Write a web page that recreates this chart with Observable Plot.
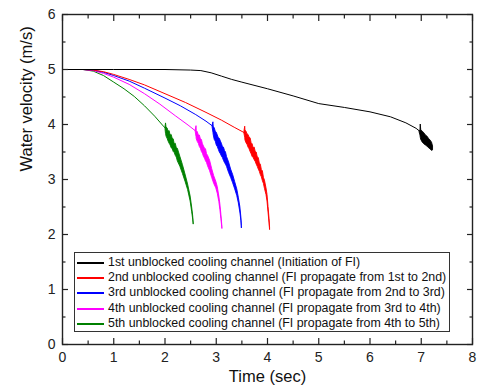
<!DOCTYPE html>
<html>
<head>
<meta charset="utf-8">
<script src="https://cdn.jsdelivr.net/npm/d3@7"></script>
<script src="https://cdn.jsdelivr.net/npm/@observablehq/plot@0.6"></script>
<style>
  body { margin: 0; background: #fff; }
  #wrap { position: relative; width: 477px; height: 391px; font-family: "Liberation Sans", Arial, sans-serif; }
  #legend { position: absolute; left: 74px; top: 252px; width: 374px; height: 78px; border: 1px solid #333; background: #fff; box-sizing: content-box; }
  .row { position: absolute; left: 0; height: 14px; line-height: 14px; font-size: 12.4px; color: #111; white-space: nowrap; }
  .sw { position: absolute; left: 2px; top: 7px; width: 27px; height: 1.5px; }
  .lb { position: absolute; left: 33px; top: 0; }
</style>
</head>
<body>
<div id="wrap"></div>
<script>
// ---- data ----
const xMajor = [0, 1, 2, 3, 4, 5, 6, 7, 8];
const xMinor = [0.5, 1.5, 2.5, 3.5, 4.5, 5.5, 6.5, 7.5];
const yMajor = [0, 1, 2, 3, 4, 5, 6];
const yMinor = [0.5, 1.5, 2.5, 3.5, 4.5, 5.5];

const seriesNames = [
  "1st unblocked cooling channel (Initiation of FI)",
  "2nd unblocked cooling channel (FI propagate from 1st to 2nd)",
  "3rd unblocked cooling channel (FI propagate from 2nd to 3rd)",
  "4th unblocked cooling channel (FI propagate from 3rd to 4th)",
  "5th unblocked cooling channel (FI propagate from 4th to 5th)"
];
const seriesColors = ["#000000", "#ff0000", "#0000ff", "#ff00ff", "#008000"];

// 1st (black)
const bT = [0, 1, 2, 2.5, 2.7, 2.9, 3.1, 3.3, 3.5, 4.0, 4.5, 5.0, 5.5, 6.0, 6.4, 6.7, 6.9, 6.98];
const bV = [5.0, 5.0, 5.0, 4.99, 4.98, 4.94, 4.88, 4.82, 4.77, 4.65, 4.52, 4.38, 4.31, 4.23, 4.14, 4.03, 3.93, 3.87];
const bnT = [6.97, 6.985, 6.99, 7.0, 7.03, 7.06, 7.09, 7.12, 7.15, 7.18, 7.21, 7.23];
const bnHi = [3.88, 3.90, 4.00, 3.89, 3.87, 3.84, 3.80, 3.78, 3.74, 3.71, 3.67, 3.60];
const bnLo = [3.85, 3.80, 3.76, 3.72, 3.67, 3.64, 3.62, 3.60, 3.57, 3.55, 3.52, 3.53];

// 2nd (red)
const rT = [0, 0.4, 0.6, 0.8, 1.0, 1.3, 1.6, 2.0, 2.4, 2.8, 3.1, 3.35, 3.55];
const rV = [5.0, 5.0, 4.99, 4.96, 4.91, 4.82, 4.72, 4.56, 4.40, 4.22, 4.08, 3.95, 3.85];
const rnT = [3.55, 3.565, 3.57, 3.59, 3.61, 3.63, 3.65, 3.67, 3.69, 3.71, 3.73, 3.75, 3.77, 3.79, 3.81, 3.83, 3.85, 3.87, 3.89, 3.91, 3.93, 3.95, 3.98, 4.00, 4.02, 4.04, 4.05];
const rnHi = [3.87, 3.96, 3.89, 3.87, 3.82, 3.81, 3.76, 3.75, 3.66, 3.64, 3.57, 3.58, 3.50, 3.49, 3.40, 3.39, 3.29, 3.27, 3.17, 3.15, 3.03, 2.98, 2.84, 2.72, 2.50, 2.28, 2.12];
const rnLo = [3.83, 3.76, 3.71, 3.66, 3.63, 3.58, 3.55, 3.50, 3.46, 3.41, 3.39, 3.35, 3.32, 3.27, 3.23, 3.18, 3.14, 3.08, 3.04, 2.97, 2.92, 2.83, 2.72, 2.60, 2.40, 2.20, 2.08];

// 3rd (blue)
const uT = [0, 0.4, 0.6, 0.8, 1.0, 1.3, 1.6, 2.0, 2.3, 2.6, 2.8, 2.93];
const uV = [5.0, 5.0, 4.99, 4.95, 4.89, 4.79, 4.66, 4.48, 4.34, 4.18, 4.06, 3.97];
const unT = [2.93, 2.945, 2.95, 2.97, 2.99, 3.01, 3.03, 3.05, 3.07, 3.09, 3.11, 3.13, 3.15, 3.17, 3.19, 3.21, 3.25, 3.29, 3.33, 3.37, 3.41, 3.44, 3.47, 3.49, 3.50];
const unHi = [3.98, 4.04, 3.96, 3.93, 3.87, 3.85, 3.80, 3.75, 3.74, 3.69, 3.65, 3.59, 3.58, 3.52, 3.49, 3.41, 3.31, 3.18, 3.08, 2.95, 2.82, 2.67, 2.50, 2.31, 2.15];
const unLo = [3.94, 3.85, 3.81, 3.72, 3.69, 3.62, 3.59, 3.54, 3.49, 3.46, 3.42, 3.39, 3.34, 3.30, 3.27, 3.23, 3.12, 3.03, 2.93, 2.82, 2.70, 2.57, 2.40, 2.25, 2.11];

// 4th (magenta)
const mT = [0, 0.4, 0.6, 0.8, 1.0, 1.3, 1.6, 1.9, 2.2, 2.45, 2.6];
const mV = [5.0, 5.0, 4.98, 4.93, 4.86, 4.73, 4.56, 4.37, 4.16, 3.99, 3.88];
const mnT = [2.60, 2.615, 2.62, 2.64, 2.66, 2.68, 2.70, 2.72, 2.74, 2.76, 2.78, 2.80, 2.82, 2.84, 2.88, 2.92, 2.96, 3.00, 3.03, 3.06, 3.08, 3.10, 3.12];
const mnHi = [3.90, 3.97, 3.88, 3.86, 3.80, 3.80, 3.73, 3.72, 3.64, 3.60, 3.56, 3.55, 3.46, 3.43, 3.34, 3.19, 3.06, 2.96, 2.86, 2.69, 2.55, 2.36, 2.14];
const mnLo = [3.86, 3.77, 3.73, 3.68, 3.65, 3.59, 3.56, 3.50, 3.47, 3.41, 3.38, 3.33, 3.30, 3.24, 3.15, 3.03, 2.92, 2.84, 2.74, 2.59, 2.45, 2.28, 2.10];

// 5th (green)
const gT = [0, 0.4, 0.6, 0.8, 1.0, 1.2, 1.4, 1.6, 1.8, 1.95, 2.01];
const gV = [5.0, 5.0, 4.97, 4.89, 4.77, 4.65, 4.51, 4.34, 4.15, 3.99, 3.93];
const gnT = [2.01, 2.02, 2.03, 2.05, 2.07, 2.09, 2.11, 2.13, 2.15, 2.17, 2.19, 2.21, 2.23, 2.25, 2.30, 2.35, 2.40, 2.45, 2.50, 2.53, 2.55, 2.56];
const gnHi = [3.95, 4.02, 3.94, 3.93, 3.87, 3.88, 3.80, 3.81, 3.74, 3.73, 3.64, 3.65, 3.57, 3.56, 3.41, 3.26, 3.09, 2.91, 2.69, 2.49, 2.33, 2.20];
const gnLo = [3.91, 3.83, 3.78, 3.74, 3.69, 3.65, 3.62, 3.57, 3.55, 3.50, 3.48, 3.43, 3.40, 3.33, 3.23, 3.10, 2.96, 2.81, 2.60, 2.41, 2.27, 2.18];

// ---- build ----
const smooth = [[bT, bV], [rT, rV], [uT, uV], [mT, mV], [gT, gV]]
  .map(([t, v], i) => t.map((x, j) => ({t: x, v: v[j], s: i})));
const noisy = [[bnT, bnLo, bnHi], [rnT, rnLo, rnHi], [unT, unLo, unHi], [mnT, mnLo, mnHi], [gnT, gnLo, gnHi]]
  .map(([t, lo, hi], i) => t.map((x, j) => ({t: x, lo: lo[j], hi: hi[j], s: i})));

const order = [4, 3, 2, 1, 0];
const curveMarks = [];
for (const i of order) {
  curveMarks.push(Plot.line(smooth[i], {x: "t", y: "v", stroke: seriesColors[i], strokeWidth: 1}));
  curveMarks.push(Plot.areaY(noisy[i], {x: "t", y1: "lo", y2: "hi", fill: seriesColors[i], stroke: seriesColors[i], strokeWidth: 0.9, strokeLinejoin: "miter"}));
}

const axisColor = "#222";
const noText = () => "";
const tk = {label: null, tickFormat: noText, stroke: axisColor, strokeWidth: 1.2};
const chart = Plot.plot({
  width: 477,
  height: 391,
  marginLeft: 62,
  marginRight: 5,
  marginTop: 14,
  marginBottom: 47,
  style: {fontFamily: "'Liberation Sans', Arial, sans-serif", background: "#fff"},
  x: {domain: [0, 8]},
  y: {domain: [0, 6]},
  marks: [
    ...curveMarks,
    // inward ticks: outward axis ticks shifted inside the frame
    Plot.axisX(xMajor, {anchor: "bottom", tickSize: 6, dy: -6, ...tk}),
    Plot.axisX(xMinor, {anchor: "bottom", tickSize: 3.5, dy: -3.5, ...tk}),
    Plot.axisX(xMajor, {anchor: "top", tickSize: 6, dy: 6, ...tk}),
    Plot.axisX(xMinor, {anchor: "top", tickSize: 3.5, dy: 3.5, ...tk}),
    Plot.axisY(yMajor, {anchor: "left", tickSize: 6, dx: 6, ...tk}),
    Plot.axisY(yMinor, {anchor: "left", tickSize: 3.5, dx: 3.5, ...tk}),
    Plot.axisY(yMajor, {anchor: "right", tickSize: 6, dx: -6, ...tk}),
    Plot.axisY(yMinor, {anchor: "right", tickSize: 3.5, dx: -3.5, ...tk}),
    Plot.frame({stroke: axisColor, strokeWidth: 1.4}),
    // tick labels
    Plot.axisX(xMajor, {anchor: "bottom", tickSize: 0, tickPadding: 7.5, fontSize: 14, label: null, color: "#222", tickFormat: d => String(d)}),
    Plot.axisY(yMajor, {anchor: "left", tickSize: 0, tickPadding: 7, fontSize: 14, label: null, color: "#222", tickFormat: d => String(d)}),
    // axis titles
    Plot.text(["Time (sec)"], {frameAnchor: "bottom", dy: 37, fontSize: 16.5, fill: "#111"}),
    Plot.text(["Water velocity (m/s)"], {frameAnchor: "left", rotate: -90, dx: -36, dy: -8, fontSize: 16.5, fill: "#111"})
  ]
});

const wrap = document.getElementById("wrap");
wrap.appendChild(chart);

// legend (inside plot area, as in reference)
const legend = document.createElement("div");
legend.id = "legend";
const rowTops = [2, 17, 32, 48, 63];
seriesNames.forEach((name, i) => {
  const row = document.createElement("div");
  row.className = "row";
  row.style.top = rowTops[i] + "px";
  row.style.width = "100%";
  const sw = document.createElement("span");
  sw.className = "sw";
  sw.style.background = seriesColors[i];
  const lb = document.createElement("span");
  lb.className = "lb";
  lb.textContent = name;
  row.appendChild(sw);
  row.appendChild(lb);
  legend.appendChild(row);
});
wrap.appendChild(legend);
</script>
</body>
</html>
